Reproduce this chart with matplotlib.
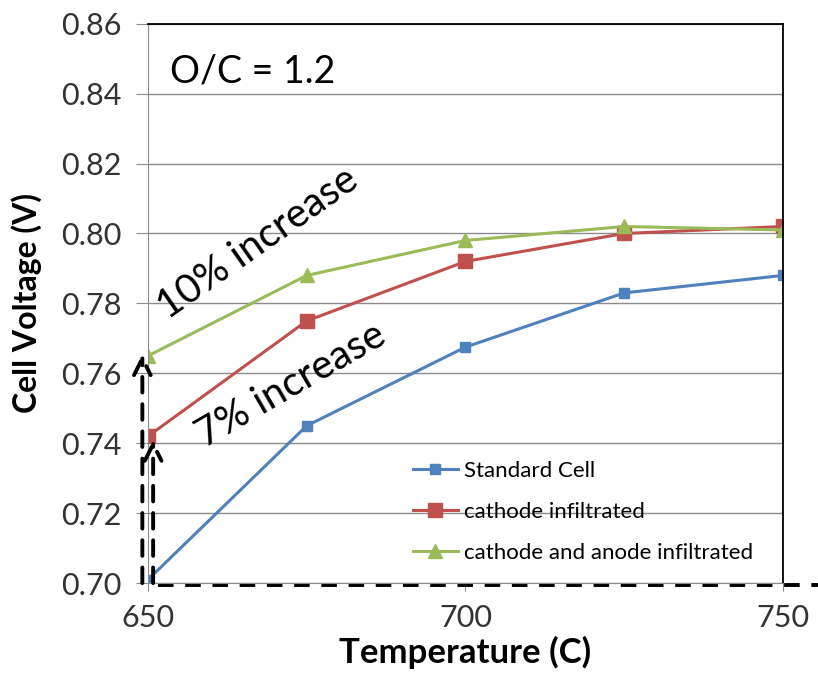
import matplotlib
matplotlib.use("Agg")
import matplotlib.pyplot as plt

temps = [650, 675, 700, 725, 750]
standard = [0.701, 0.745, 0.7675, 0.783, 0.788]
cathode = [0.742, 0.775, 0.792, 0.800, 0.802]
both = [0.765, 0.788, 0.798, 0.802, 0.801]
labels = ["Standard Cell", "cathode infiltrated", "cathode and anode infiltrated"]
yticks = [0.70, 0.72, 0.74, 0.76, 0.78, 0.80, 0.82, 0.84, 0.86]
xticks = [650, 700, 750]

plt.rcParams["font.family"] = ["Lato", "DejaVu Sans"]

fig = plt.figure(figsize=(8.18, 6.78), dpi=100)
ax = fig.add_axes([0.181, 0.140, 0.776, 0.825])

ax.plot(temps, standard, color="#4F81BD", lw=2.2, marker="s", ms=7, label=labels[0])
ax.plot(temps, cathode, color="#C0504D", lw=2.2, marker="s", ms=10, label=labels[1])
ax.plot(temps, both, color="#9BBB59", lw=2.2, marker="^", ms=10, label=labels[2])

ax.set_xlim(650, 750)
ax.set_ylim(0.70, 0.86)
ax.set_yticks(yticks)
ax.set_yticklabels([f"{v:.2f}" for v in yticks])
ax.set_xticks(xticks)
ax.grid(axis="y", color="#8c8c8c", lw=1)
ax.set_axisbelow(True)
ax.tick_params(labelsize=22, colors="#333333", color="#8c8c8c")
ax.tick_params(axis="y", length=9, pad=10)
ax.tick_params(axis="x", length=6, pad=9)
for s in ["left", "bottom"]:
    ax.spines[s].set_color("#8c8c8c")
for s in ["top", "right"]:
    ax.spines[s].set_color("black")
    ax.spines[s].set_linewidth(1.3)

ax.set_xlabel("Temperature (C)", fontsize=25, fontweight="bold", labelpad=3)
ax.set_ylabel("Cell Voltage (V)", fontsize=23, fontweight="bold", labelpad=14)

ax.text(0.035, 0.915, "O/C = 1.2", transform=ax.transAxes, fontsize=27,
        ha="left", va="center")
ax.text(667.3, 0.7972, "10% increase", fontsize=29, rotation=35,
        ha="center", va="center")
ax.text(672.5, 0.7565, "7% increase", fontsize=29, rotation=30,
        ha="center", va="center")

# dashed arrows and baseline
arrow = dict(arrowstyle="->", lw=2.8, ls=(0, (4, 3)), color="black",
             mutation_scale=30, shrinkA=0, shrinkB=0)
ax.annotate("", xy=(649.1, 0.7655), xytext=(649.1, 0.700),
            arrowprops=arrow, annotation_clip=False)
ax.annotate("", xy=(650.8, 0.741), xytext=(650.8, 0.700),
            arrowprops=arrow, annotation_clip=False)
ax.plot([651.5, 760], [0.6995, 0.6995], color="black", lw=2.8,
        ls=(0, (4, 3)), clip_on=False)

leg = ax.legend(loc="lower right", bbox_to_anchor=(0.985, 0.0), frameon=False,
                fontsize=16, handlelength=2.0, handletextpad=0.3,
                labelspacing=0.95, markerscale=1.0)

fig.savefig("out.png", dpi=100)
